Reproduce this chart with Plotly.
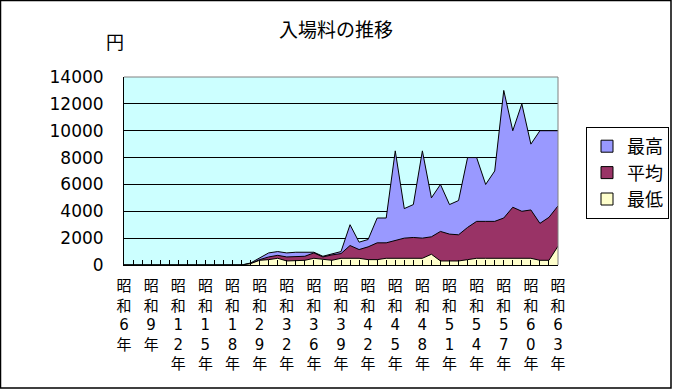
import plotly.graph_objects as go

# Categories (Showa years)
years = [6, 7, 8, 9, 10, 11, 12, 13, 14, 15, 16, 17, 18, 21, 25,
         29, 30, 31, 32, 33, 34,
         36, 37, 38, 39, 40, 41, 42, 43, 44, 45, 46, 47, 48, 49, 50,
         51, 52, 53, 54, 55, 56, 57, 58, 59, 60, 61, 62, 63]
categories = ["昭和%d年" % y for y in years]

max_price = [0, 0, 0, 0, 0, 0, 0, 0, 0, 0, 0, 0, 0, 0, 150,
             550, 900, 1000, 900, 950, 950,
             950, 650, 850, 1000, 3000, 1700, 1900, 3500, 3500, 8500, 4200, 4500, 8500, 5000, 6000,
             4500, 4800, 8000, 8000, 6000, 7000, 13000, 10000, 12000, 9000, 10000, 10000, 10000]
avg_price = [0, 0, 0, 0, 0, 0, 0, 0, 0, 0, 0, 0, 0, 0, 100,
             400, 600, 720, 600, 650, 650,
             900, 600, 750, 850, 1450, 1150, 1350, 1650, 1650, 1850, 2000, 2050, 2000, 2100, 2500,
             2300, 2250, 2800, 3250, 3250, 3250, 3500, 4300, 4000, 4100, 3100, 3550, 4400]
min_price = [0, 0, 0, 0, 0, 0, 0, 0, 0, 0, 0, 0, 0, 0, 100,
             350, 400, 500, 300, 300, 350,
             500, 450, 350, 500, 500, 500, 400, 400, 500, 500, 500, 500, 500, 800, 300,
             300, 300, 400, 500, 500, 500, 500, 500, 500, 500, 350, 350, 1400]

series_names = ["最高", "平均", "最低"]
series_colors = ["#9999FF", "#993366", "#FFFFCC"]

FONT = "DejaVu Sans, Noto Sans CJK JP, sans-serif"

fig = go.Figure()
for name, vals, col in zip(series_names, [max_price, avg_price, min_price], series_colors):
    fig.add_trace(go.Scatter(
        x=categories, y=vals, name=name, mode="lines",
        line=dict(color="black", width=1),
        fill="tozeroy", fillcolor=col, showlegend=False,
    ))
# legend entries with square swatches
for name, col in zip(series_names, series_colors):
    fig.add_trace(go.Scatter(
        x=[None], y=[None], name=name, mode="markers",
        marker=dict(symbol="square", size=12, color=col,
                    line=dict(color="black", width=1)),
        showlegend=True,
    ))

ticktext = []
for i, c in enumerate(categories):
    if i % 3 == 0:
        ticktext.append("<br>".join(list(c)))
    else:
        ticktext.append("")

L, R, T, B = 124, 115, 77, 125
W, H = 673, 390
pw, ph = W - L - R, H - T - B

fig.update_layout(
    width=W, height=H,
    margin=dict(l=L, r=R, t=T, b=B, pad=0, autoexpand=False),
    paper_bgcolor="white",
    plot_bgcolor="#CCFFFF",
    font=dict(family=FONT, size=16, color="black"),
    showlegend=True,
    legend=dict(
        xref="container", yref="container",
        x=586 / W, y=1 - 127 / H, xanchor="left", yanchor="top",
        bordercolor="black", borderwidth=1, bgcolor="white",
        font=dict(size=18), traceorder="normal", itemwidth=30,
        tracegroupgap=0,
    ),
    title=dict(text="入場料の推移", x=336 / W, xanchor="center",
               y=1 - 30 / H, yanchor="middle", font=dict(size=19)),
    xaxis=dict(
        type="category",
        tickmode="array", tickvals=categories, ticktext=ticktext,
        range=[0, len(categories) - 1],
        ticks="inside", ticklen=5, tickcolor="black",
        showline=True, linecolor="black", linewidth=1,
        showgrid=False, tickangle=0, ticklabelstandoff=7,
        tickfont=dict(size=15),
    ),
    yaxis=dict(
        range=[0, 14000], dtick=2000, tickformat="d",
        ticks="inside", ticklen=5, tickcolor="black",
        showline=True, linecolor="black", linewidth=1,
        showgrid=True, gridcolor="black", gridwidth=1,
        zeroline=False, ticklabelstandoff=16,
        tickfont=dict(size=17),
    ),
    annotations=[dict(text="円", x=(115 - L) / pw, y=(H - B - 43) / ph,
                      xref="paper", yref="paper", showarrow=False,
                      xanchor="center", yanchor="middle", font=dict(size=18))],
    shapes=[
        dict(type="line", xref="paper", yref="paper", x0=0, x1=1, y0=1, y1=1,
             line=dict(color="#808080", width=1)),
        dict(type="line", xref="paper", yref="paper", x0=1, x1=1, y0=0, y1=1,
             line=dict(color="#808080", width=1)),
        dict(type="rect", xref="paper", yref="paper",
             x0=(0.5 - L) / pw, x1=(671 - L) / pw,
             y0=(H - B - 388) / ph, y1=(H - B - 0.5) / ph,
             line=dict(color="black", width=1.5)),
    ],
)

fig.write_html("out.html", config={"displayModeBar": False},
               post_script="document.body.style.margin='0';document.body.style.overflow='hidden';")
